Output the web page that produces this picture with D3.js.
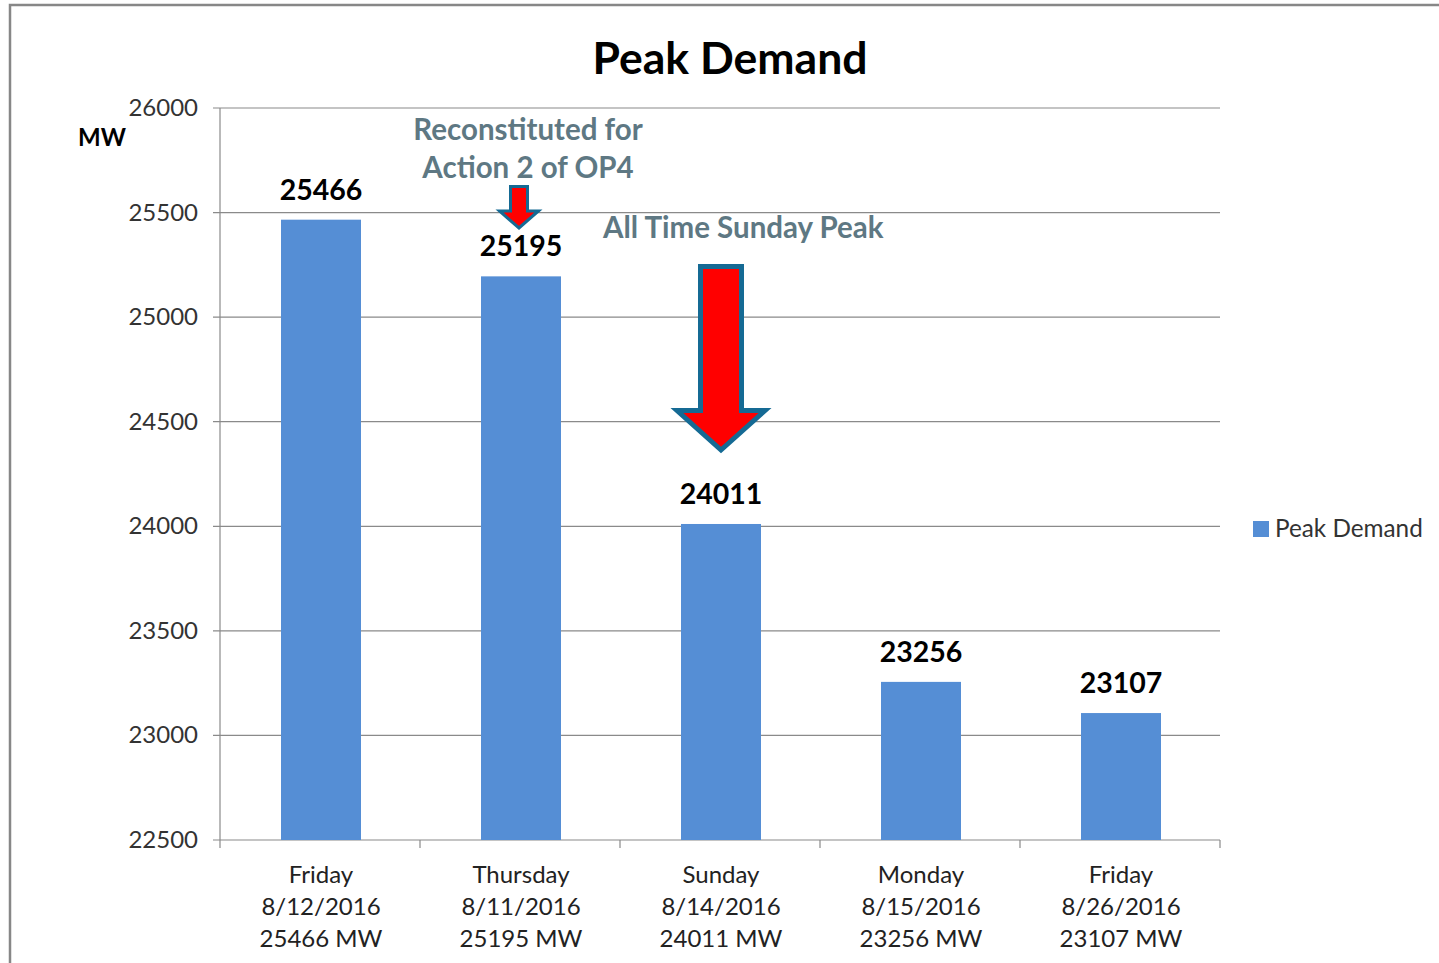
<!DOCTYPE html>
<html>
<head>
<meta charset="utf-8">
<script src="https://cdn.jsdelivr.net/npm/d3@7"></script>
<style>
  html, body { margin: 0; padding: 0; background: #fff; }
  svg { display: block; }
  text { font-family: Lato, "Open Sans", sans-serif; }
</style>
</head>
<body>
<svg id="chart" width="1439" height="963"></svg>
<script>
// ---- data ----
const days = ["Friday", "Thursday", "Sunday", "Monday", "Friday"];
const dates = ["8/12/2016", "8/11/2016", "8/14/2016", "8/15/2016", "8/26/2016"];
const peakMW = [25466, 25195, 24011, 23256, 23107];
const yTicks = [22500, 23000, 23500, 24000, 24500, 25000, 25500, 26000];
const seriesName = "Peak Demand";
const chartTitle = "Peak Demand";
const yUnit = "MW";

(function () {
const categories = days.map((d, i) => i);

const svg = d3.select("#chart");
const pLeft = 220, pRight = 1220, pTop = 108, pBottom = 840;

// frame
svg.append("rect")
  .attr("x", 10).attr("y", 5).attr("width", 1460).attr("height", 990)
  .attr("fill", "#fff").attr("stroke", "#878787").attr("stroke-width", 2.5);

const x = d3.scaleBand().domain(categories).range([pLeft, pRight])
  .paddingInner(0.6).paddingOuter(0.3);
const xOuter = d3.scaleBand().domain(categories).range([pLeft, pRight]).padding(0);
const y = d3.scaleLinear().domain([22500, 26000]).range([pBottom, pTop]);

const gridColor = "#8a8a8a";

// gridlines
svg.append("g").selectAll("line").data(yTicks).join("line")
  .attr("x1", pLeft - 7).attr("x2", pRight)
  .attr("y1", d => y(d)).attr("y2", d => y(d))
  .attr("stroke", gridColor).attr("stroke-width", 1.2);

// y axis line
svg.append("line").attr("x1", pLeft).attr("x2", pLeft)
  .attr("y1", pTop).attr("y2", pBottom)
  .attr("stroke", gridColor).attr("stroke-width", 1.2);

// y tick labels
svg.append("g").selectAll("text").data(yTicks).join("text")
  .attr("x", 198).attr("y", d => y(d) + 8)
  .attr("text-anchor", "end")
  .attr("font-size", 24).attr("fill", "#333")
  .text(d => d);

// x axis tick marks at band boundaries
const boundaries = categories.map(c => xOuter(c)).concat([pRight]);
svg.append("g").selectAll("line").data(boundaries).join("line")
  .attr("x1", d => d).attr("x2", d => d)
  .attr("y1", pBottom).attr("y2", pBottom + 8)
  .attr("stroke", gridColor).attr("stroke-width", 1.2);

// bars
svg.append("g").selectAll("rect").data(peakMW).join("rect")
  .attr("x", (d, i) => x(i) + 1)
  .attr("y", d => y(d))
  .attr("width", x.bandwidth())
  .attr("height", d => pBottom - y(d))
  .attr("fill", "#558ed5");

// value labels
svg.append("g").selectAll("text").data(peakMW).join("text")
  .attr("x", (d, i) => x(i) + x.bandwidth() / 2 + 1)
  .attr("y", d => y(d) - 20)
  .attr("text-anchor", "middle")
  .attr("font-size", 28.5).attr("font-weight", "bold").attr("fill", "#000")
  .text(d => d);

// category labels
const catG = svg.append("g");
categories.forEach(i => {
  const cx = x(i) + x.bandwidth() / 2 + 1;
  const lines = [days[i], dates[i], peakMW[i] + " MW"];
  lines.forEach((t, k) => {
    catG.append("text")
      .attr("x", cx).attr("y", 883 + k * 32)
      .attr("text-anchor", "middle")
      .attr("font-size", 24).attr("fill", "#222")
      .text(t);
  });
});

// title
svg.append("text").attr("x", 730).attr("y", 74)
  .attr("text-anchor", "middle")
  .attr("font-size", 44.5).attr("font-weight", "bold").attr("fill", "#000")
  .text(chartTitle);

// y unit
svg.append("text").attr("x", 78).attr("y", 146)
  .attr("font-size", 24).attr("font-weight", "bold").attr("fill", "#000")
  .text(yUnit);

// legend
svg.append("rect").attr("x", 1253).attr("y", 521).attr("width", 16).attr("height", 16)
  .attr("fill", "#558ed5");
svg.append("text").attr("x", 1275).attr("y", 537)
  .attr("font-size", 24.3).attr("fill", "#333")
  .text(seriesName);

// annotations
const annColor = "#5e7883";
svg.append("text").attr("x", 528).attr("y", 140).attr("text-anchor", "middle")
  .attr("font-size", 29.5).attr("font-weight", "bold").attr("fill", annColor)
  .text("Reconstituted for");
svg.append("text").attr("x", 528).attr("y", 178).attr("text-anchor", "middle")
  .attr("font-size", 29.5).attr("font-weight", "bold").attr("fill", annColor)
  .text("Action 2 of OP4");
svg.append("text").attr("x", 603).attr("y", 238)
  .attr("font-size", 29.5).attr("font-weight", "bold").attr("fill", annColor)
  .text("All Time Sunday Peak");

function downArrow(cx, yTop, shaftHalf, headY, headHalf, tipY) {
  return `M${cx - shaftHalf},${yTop} L${cx + shaftHalf},${yTop} L${cx + shaftHalf},${headY}
          L${cx + headHalf},${headY} L${cx},${tipY} L${cx - headHalf},${headY}
          L${cx - shaftHalf},${headY} Z`;
}
// small arrow above Thursday bar
const cThu = x(1) + x.bandwidth() / 2;
svg.append("path").attr("d", downArrow(cThu - 1, 186.5, 8.5, 211, 19.5, 228))
  .attr("fill", "#ff0000").attr("stroke", "#156a94").attr("stroke-width", 3)
  .attr("stroke-linejoin", "miter");
// big arrow above Sunday bar
const cSun = x(2) + x.bandwidth() / 2;
svg.append("path").attr("d", downArrow(cSun + 1, 266.5, 20.5, 410.5, 44, 450))
  .attr("fill", "#ff0000").attr("stroke", "#156a94").attr("stroke-width", 5)
  .attr("stroke-linejoin", "miter");
})();
</script>
</body>
</html>
